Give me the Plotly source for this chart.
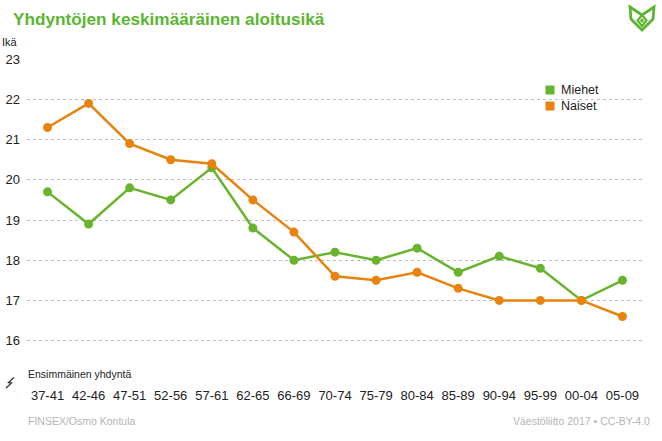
import plotly.graph_objects as go

categories = ["37-41", "42-46", "47-51", "52-56", "57-61", "62-65", "66-69", "70-74",
              "75-79", "80-84", "85-89", "90-94", "95-99", "00-04", "05-09"]
miehet = [19.7, 18.9, 19.8, 19.5, 20.3, 18.8, 18.0, 18.2, 18.0, 18.3, 17.7, 18.1, 17.8, 17.0, 17.5]
naiset = [21.3, 21.9, 20.9, 20.5, 20.4, 19.5, 18.7, 17.6, 17.5, 17.7, 17.3, 17.0, 17.0, 17.0, 16.6]
y_ticks = [15, 16, 17, 18, 19, 20, 21, 22, 23]
y_ticktext = ["", "16", "17", "18", "19", "20", "21", "22", "23"]
series_names = ["Miehet", "Naiset"]

GREEN = "#69b42f"
ORANGE = "#e8830f"
TITLE_GREEN = "#5cb531"
FONT = "Arial, Liberation Sans"

W, H = 662, 441
ML, MR, MT, MB = 27, 19, 59, 60
PW, PH = W - ML - MR, H - MT - MB


def px(x):
    return (x - ML) / PW


def py(y):
    return 1 - (y - MT) / PH


fig = go.Figure()
fig.add_trace(go.Scatter(x=categories, y=miehet, mode="lines+markers", name=series_names[0],
                         showlegend=False,
                         line=dict(color=GREEN, width=2.5), marker=dict(color=GREEN, size=9)))
fig.add_trace(go.Scatter(x=categories, y=naiset, mode="lines+markers", name=series_names[1],
                         showlegend=False,
                         line=dict(color=ORANGE, width=2.5), marker=dict(color=ORANGE, size=9)))

shapes = []
# axis break symbol
shapes.append(dict(type="path", xref="paper", yref="paper",
                   path=f"M {px(6)},{py(388)} L {px(11.5)},{py(383)} L {px(8.5)},{py(382.5)} L {px(14)},{py(377.5)}",
                   line=dict(color="#333333", width=1.3)))


def pp(pts):
    return "M " + " L ".join(f"{px(a)},{py(b)}" for a, b in pts) + " Z"


# logo
shapes.append(dict(type="path", xref="paper", yref="paper",
                   path=pp([(630, 7), (642, 15), (654, 7), (653, 19), (642, 30), (631, 19)]),
                   line=dict(color=TITLE_GREEN, width=2.8), fillcolor="rgba(0,0,0,0)"))
shapes.append(dict(type="path", xref="paper", yref="paper",
                   path=pp([(642, 15), (646.5, 20.5), (642, 26), (637.5, 20.5)]),
                   line=dict(color=TITLE_GREEN, width=2.2), fillcolor="rgba(0,0,0,0)"))
shapes.append(dict(type="circle", xref="paper", yref="paper",
                   x0=px(640.6), x1=px(643.4), y0=py(22), y1=py(19),
                   line=dict(color=TITLE_GREEN, width=1), fillcolor=TITLE_GREEN))

annotations = [
    dict(text="<b>Yhdyntöjen keskimääräinen aloitusikä</b>", xref="paper", yref="paper",
         x=px(11), y=py(19), xanchor="left", yanchor="middle", showarrow=False,
         font=dict(family=FONT, size=17.2, color=TITLE_GREEN)),
    dict(text="Ikä", xref="paper", yref="paper", x=px(0), y=py(42), xanchor="left",
         yanchor="middle", showarrow=False,
         font=dict(family=FONT, size=11, color="#222222")),
    dict(text="Ensimmäinen yhdyntä", xref="paper", yref="paper", x=px(26), y=py(374),
         xanchor="left", yanchor="middle", showarrow=False,
         font=dict(family=FONT, size=10.5, color="#222222")),
    dict(text="FINSEX/Osmo Kontula", xref="paper", yref="paper", x=px(26), y=py(421),
         xanchor="left", yanchor="middle", showarrow=False,
         font=dict(family=FONT, size=10.5, color="#b5b5b5")),
    dict(text="Väestöliitto 2017 • CC-BY-4.0", xref="paper", yref="paper", x=px(652), y=py(421),
         xanchor="right", yanchor="middle", showarrow=False,
         font=dict(family=FONT, size=10.5, color="#b5b5b5")),
]

# manual legend
legend_colors = [GREEN, ORANGE]
for i, (name, col) in enumerate(zip(series_names, legend_colors)):
    cy = 90 + i * 16
    shapes.append(dict(type="rect", xref="paper", yref="paper",
                       x0=px(545.5), x1=px(554.5), y0=py(cy + 4.5), y1=py(cy - 4.5),
                       line=dict(width=0), fillcolor=col))
    annotations.append(dict(text=name, xref="paper", yref="paper", x=px(559), y=py(cy),
                            xanchor="left", yanchor="middle", showarrow=False,
                            font=dict(family=FONT, size=12.5, color="#222222")))

fig.update_layout(
    width=W, height=H,
    margin=dict(l=ML, r=MR, t=MT, b=MB, autoexpand=False),
    paper_bgcolor="white", plot_bgcolor="white",
    font=dict(family=FONT, color="#222222"),
    showlegend=False,
    xaxis=dict(type="category", categoryorder="array", categoryarray=categories,
               range=[-0.5, 14.5], showgrid=False, zeroline=False, showline=False,
               ticks="", tickfont=dict(size=13, color="#222222"), ticklabelstandoff=5),
    yaxis=dict(range=[14.995, 23.005], tickvals=y_ticks, ticktext=y_ticktext,
               showgrid=True, gridcolor="#bdbdbd", griddash="3px,3px", gridwidth=1,
               zeroline=False, showline=False, ticks="",
               tickfont=dict(size=13, color="#222222"), ticklabelstandoff=6),
    shapes=shapes,
    annotations=annotations,
)

fig.write_html("out.html", config={"displayModeBar": False},
               post_script="document.body.style.margin='0px';document.body.style.padding='0px';")
